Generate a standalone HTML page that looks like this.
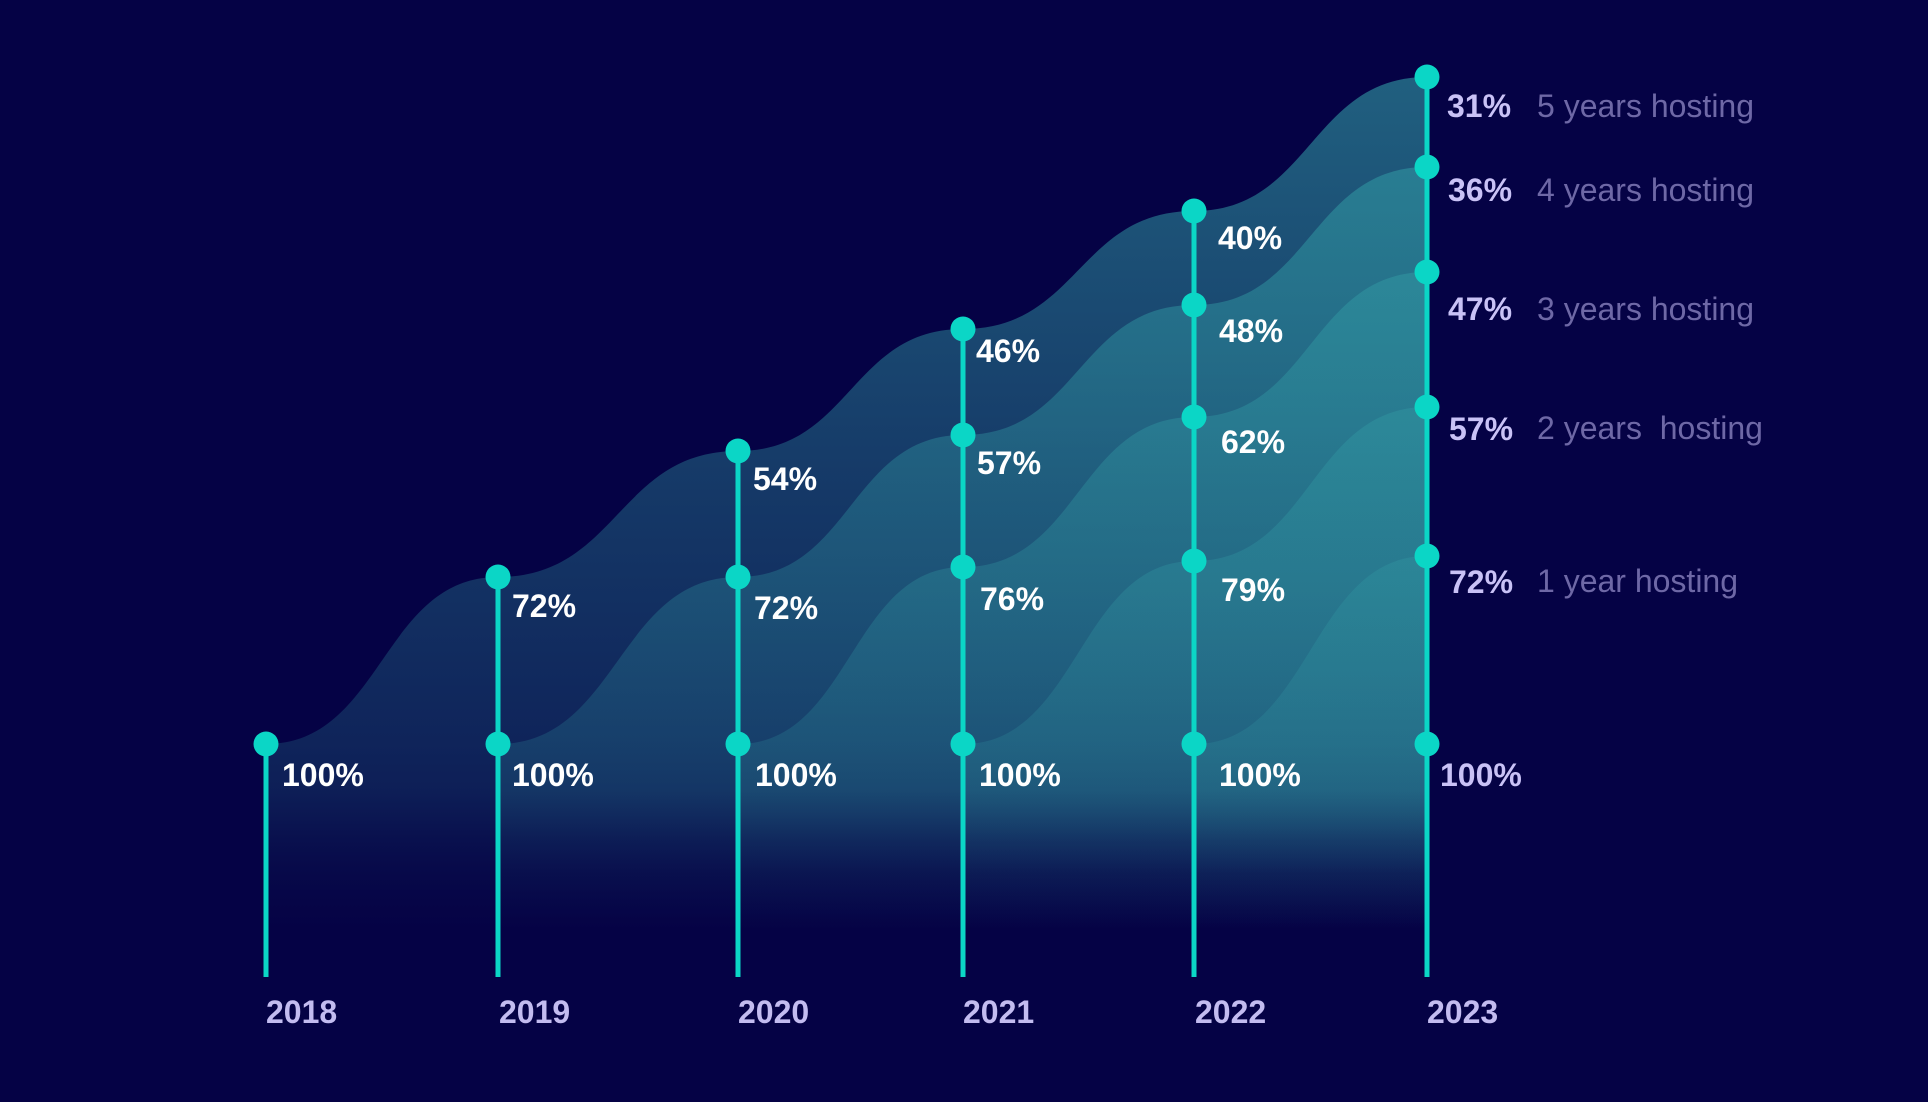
<!DOCTYPE html>
<html>
<head>
<meta charset="utf-8">
<style>
  html, body { margin:0; padding:0; background:#050245; }
  body { width:1928px; height:1102px; overflow:hidden; }
  svg { display:block; }
  .v { font-family:"Liberation Sans", sans-serif; font-weight:bold; font-size:32px; fill:#ffffff; }
  .vl { font-family:"Liberation Sans", sans-serif; font-weight:bold; font-size:32px; fill:#c9c2f6; }
  .yr { font-family:"Liberation Sans", sans-serif; font-weight:bold; font-size:32px; fill:#c3bcf0; }
  .lg { font-family:"Liberation Sans", sans-serif; font-size:32px; fill:#6e68a6; }
</style>
</head>
<body>
<svg width="1928" height="1102" viewBox="0 0 1928 1102" xmlns="http://www.w3.org/2000/svg">
  <defs>
    <linearGradient id="g" gradientUnits="userSpaceOnUse" x1="0" y1="60" x2="0" y2="980">
      <stop offset="0" stop-color="rgb(50,156,165)" stop-opacity="0.62"/>
      <stop offset="0.4565" stop-color="rgb(50,156,165)" stop-opacity="0.36"/>
      <stop offset="0.7435" stop-color="rgb(50,156,165)" stop-opacity="0.22"/>
      <stop offset="0.7935" stop-color="rgb(50,156,165)" stop-opacity="0.185"/>
      <stop offset="0.8478" stop-color="rgb(50,156,165)" stop-opacity="0.091"/>
      <stop offset="0.8837" stop-color="rgb(50,156,165)" stop-opacity="0.044"/>
      <stop offset="0.9207" stop-color="rgb(50,156,165)" stop-opacity="0.0165"/>
      <stop offset="0.9457" stop-color="rgb(50,156,165)" stop-opacity="0"/>
      <stop offset="1" stop-color="rgb(50,156,165)" stop-opacity="0"/>
    </linearGradient>
  </defs>
  <rect width="1928" height="1102" fill="#050245"/>

  <!-- cohort layers -->
  <path fill="url(#g)" d="M266,744 C382,744 382,577 498,577 C618,577 618,451 738,451 C850.5,451 850.5,329 963,329 C1078.5,329 1078.5,211 1194,211 C1310.5,211 1310.5,77 1427,77 L1427,980 L266,980 Z"/>
  <path fill="url(#g)" d="M498,744 C618,744 618,577 738,577 C850.5,577 850.5,435 963,435 C1078.5,435 1078.5,305 1194,305 C1310.5,305 1310.5,167 1427,167 L1427,980 L498,980 Z"/>
  <path fill="url(#g)" d="M738,744 C850.5,744 850.5,567 963,567 C1078.5,567 1078.5,417 1194,417 C1310.5,417 1310.5,272 1427,272 L1427,980 L738,980 Z"/>
  <path fill="url(#g)" d="M963,744 C1078.5,744 1078.5,561 1194,561 C1310.5,561 1310.5,407 1427,407 L1427,980 L963,980 Z"/>
  <path fill="url(#g)" d="M1194,744 C1310.5,744 1310.5,556 1427,556 L1427,980 L1194,980 Z"/>

  <!-- vertical lines -->
  <g stroke="#0bd6c6" stroke-width="5">
    <line x1="266" y1="744" x2="266" y2="977"/>
    <line x1="498" y1="577" x2="498" y2="977"/>
    <line x1="738" y1="451" x2="738" y2="977"/>
    <line x1="963" y1="329" x2="963" y2="977"/>
    <line x1="1194" y1="211" x2="1194" y2="977"/>
    <line x1="1427" y1="77" x2="1427" y2="977"/>
  </g>

  <!-- dots -->
  <g fill="#0bd6c6">
    <circle cx="266" cy="744" r="12.5"/>
    <circle cx="498" cy="577" r="12.5"/>
    <circle cx="498" cy="744" r="12.5"/>
    <circle cx="738" cy="451" r="12.5"/>
    <circle cx="738" cy="577" r="12.5"/>
    <circle cx="738" cy="744" r="12.5"/>
    <circle cx="963" cy="329" r="12.5"/>
    <circle cx="963" cy="435" r="12.5"/>
    <circle cx="963" cy="567" r="12.5"/>
    <circle cx="963" cy="744" r="12.5"/>
    <circle cx="1194" cy="211" r="12.5"/>
    <circle cx="1194" cy="305" r="12.5"/>
    <circle cx="1194" cy="417" r="12.5"/>
    <circle cx="1194" cy="561" r="12.5"/>
    <circle cx="1194" cy="744" r="12.5"/>
    <circle cx="1427" cy="77" r="12.5"/>
    <circle cx="1427" cy="167" r="12.5"/>
    <circle cx="1427" cy="272" r="12.5"/>
    <circle cx="1427" cy="407" r="12.5"/>
    <circle cx="1427" cy="556" r="12.5"/>
    <circle cx="1427" cy="744" r="12.5"/>
  </g>

  <!-- value labels -->
  <text class="v" x="282" y="786">100%</text>

  <text class="v" x="512" y="617">72%</text>
  <text class="v" x="512" y="786">100%</text>

  <text class="v" x="753" y="490">54%</text>
  <text class="v" x="754" y="619">72%</text>
  <text class="v" x="755" y="786">100%</text>

  <text class="v" x="976" y="362">46%</text>
  <text class="v" x="977" y="474">57%</text>
  <text class="v" x="980" y="610">76%</text>
  <text class="v" x="979" y="786">100%</text>

  <text class="v" x="1218" y="249">40%</text>
  <text class="v" x="1219" y="342">48%</text>
  <text class="v" x="1221" y="453">62%</text>
  <text class="v" x="1221" y="601">79%</text>
  <text class="v" x="1219" y="786">100%</text>

  <text class="vl" x="1447" y="117">31%</text>
  <text class="vl" x="1448" y="201">36%</text>
  <text class="vl" x="1448" y="320">47%</text>
  <text class="vl" x="1449" y="440">57%</text>
  <text class="vl" x="1449" y="593">72%</text>
  <text class="vl" x="1440" y="786">100%</text>

  <!-- legend -->
  <text class="lg" x="1537" y="117">5 years hosting</text>
  <text class="lg" x="1537" y="201">4 years hosting</text>
  <text class="lg" x="1537" y="320">3 years hosting</text>
  <text class="lg" x="1537" y="439" xml:space="preserve">2 years  hosting</text>
  <text class="lg" x="1537" y="592">1 year hosting</text>

  <!-- years -->
  <text class="yr" x="266" y="1023">2018</text>
  <text class="yr" x="499" y="1023">2019</text>
  <text class="yr" x="738" y="1023">2020</text>
  <text class="yr" x="963" y="1023">2021</text>
  <text class="yr" x="1195" y="1023">2022</text>
  <text class="yr" x="1427" y="1023">2023</text>
</svg>
</body>
</html>
